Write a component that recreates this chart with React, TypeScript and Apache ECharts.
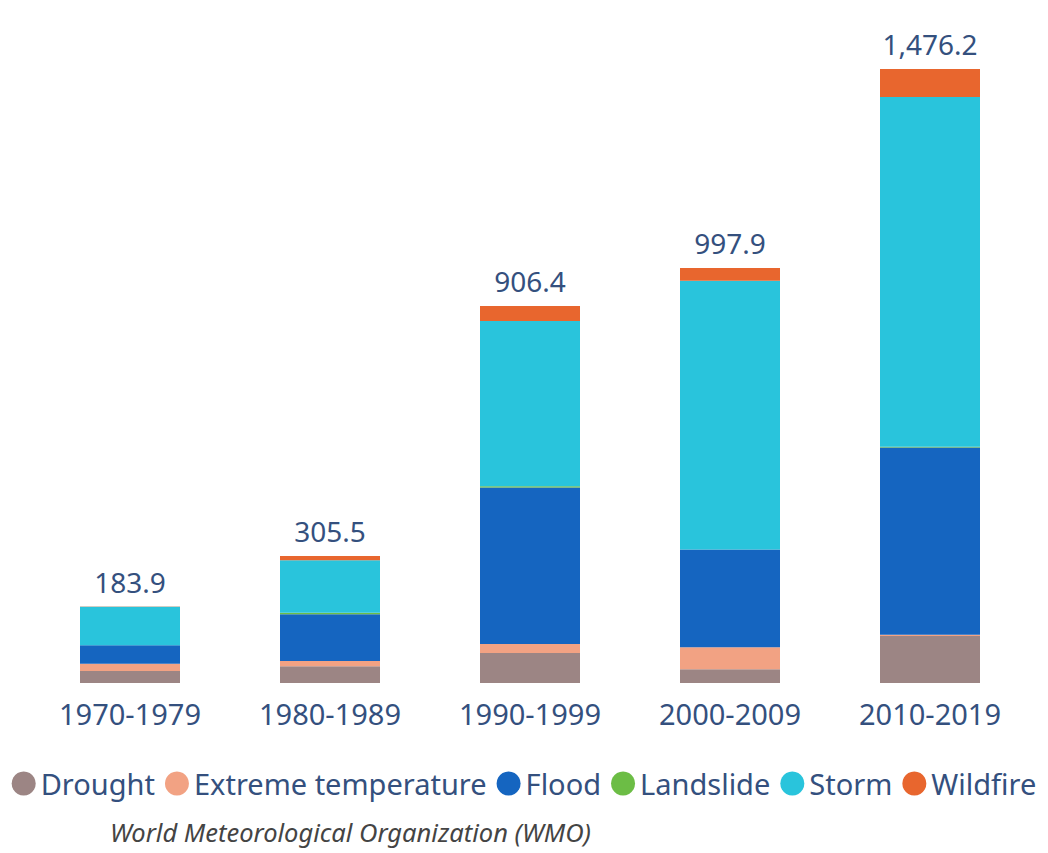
import React, { useEffect, useRef } from "react";
import * as echarts from "echarts";

const decades = ["1970-1979", "1980-1989", "1990-1999", "2000-2009", "2010-2019"];
const totals = [183.9, 305.5, 906.4, 997.9, 1476.2];
const drought = [29, 40, 72, 33, 113];
const extremeTemperature = [17, 13, 22, 53, 3];
const flood = [45, 112, 376, 235, 450];
const landslide = [0, 4, 3, 0, 2];
const storm = [92.4, 126, 397.4, 645.9, 841.2];
const wildfire = [0.5, 10.5, 36, 31, 67];

const FONT = "'Noto Sans', 'Open Sans', sans-serif";
const TEXT = "#34507e";

export default function App() {
  const ref = useRef<HTMLDivElement>(null);

  useEffect(() => {
    if (!ref.current) return;
    const chart = echarts.init(ref.current, undefined, { renderer: "svg" });

    const mk = (name: string, data: number[], color: string, top = false) => ({
      name,
      type: "bar",
      stack: "loss",
      data,
      barWidth: "50%",
      itemStyle: { color },
      label: top
        ? {
            show: true,
            position: "top",
            distance: 11,
            fontSize: 28,
            fontFamily: FONT,
            color: TEXT,
            formatter: (p: any) => totals[p.dataIndex].toLocaleString("en-US", { minimumFractionDigits: 1 }),
          }
        : { show: false },
    });

    chart.setOption({
      animation: false,
      textStyle: { fontFamily: FONT },
      grid: { left: 30, right: 18, top: 40, bottom: 170 },
      xAxis: {
        type: "category",
        data: decades,
        axisLine: { show: false },
        axisTick: { show: false },
        axisLabel: { fontSize: 29, color: TEXT, fontFamily: FONT, margin: 16 },
      },
      yAxis: { type: "value", min: 0, max: 1546, show: false, splitLine: { show: false } },
      legend: {
        bottom: 50,
        left: "center",
        icon: "circle",
        itemWidth: 24,
        itemHeight: 24,
        itemGap: 10,
        textStyle: { fontSize: 29, color: TEXT, fontFamily: FONT },
        data: ["Drought", "Extreme temperature", "Flood", "Landslide", "Storm", "Wildfire"],
      },
      graphic: [
        {
          type: "text",
          left: 110,
          top: 819,
          style: {
            text: "World Meteorological Organization (WMO)",
            fontSize: 25.5,
            fontStyle: "italic",
            fontFamily: FONT,
            fill: "#444",
          },
        },
      ],
      series: [
        mk("Drought", drought, "#9c8584"),
        mk("Extreme temperature", extremeTemperature, "#f2a283"),
        mk("Flood", flood, "#1565c0"),
        mk("Landslide", landslide, "#6cbd45"),
        mk("Storm", storm, "#29c4dc"),
        mk("Wildfire", wildfire, "#e8662e", true),
      ],
    });

    return () => chart.dispose();
  }, []);

  return (
    <div
      ref={ref}
      style={{ position: "fixed", left: 0, top: 0, width: 1048, height: 853, background: "#fff" }}
    />
  );
}
